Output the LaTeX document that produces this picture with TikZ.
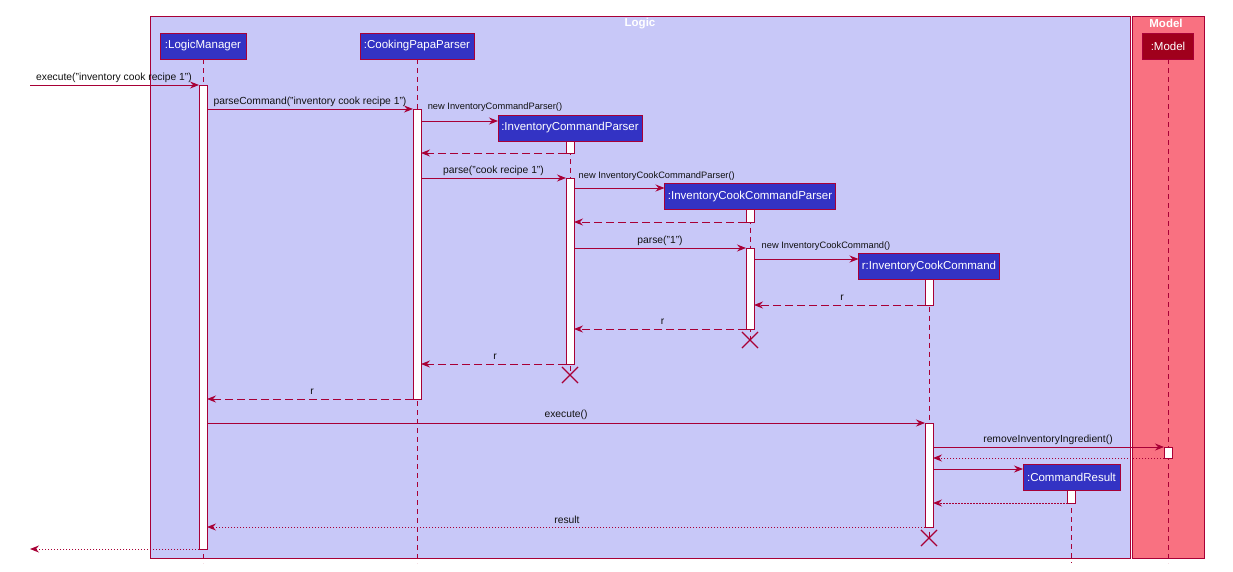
\documentclass[tikz,border=0pt]{standalone}
\usepackage{fontspec}
\setmainfont{Liberation Sans}
\usetikzlibrary{arrows.meta,shapes.misc}
\definecolor{crim}{HTML}{A80036}
\definecolor{logicbg}{HTML}{C8C8F8}
\definecolor{modelbg}{HTML}{F97181}
\definecolor{partblue}{HTML}{3333C4}
\definecolor{partred}{HTML}{A0001C}
\definecolor{lbl}{HTML}{111111}
\begin{document}
\begin{tikzpicture}[x=1pt,y=-1pt,
  part/.style={draw=crim, fill=partblue, text=white, font=\fontsize{11.5}{13}\selectfont,
    minimum height=26pt, inner sep=0pt, outer sep=0pt, line width=0.8pt},
  act/.style={draw=crim, fill=white, minimum width=8pt, inner sep=0pt, outer sep=0pt, line width=0.8pt},
  life/.style={draw=crim, line width=0.8pt, dash pattern=on 5pt off 4pt},
  msg/.style={draw=crim, line width=0.9pt, -{Stealth[length=9pt,width=7pt,inset=3pt]}},
  ret/.style={msg, dash pattern=on 8pt off 4pt},
  dot/.style={msg, dash pattern=on 1.5pt off 1.5pt},
  lab/.style={font=\fontsize{10.3}{12}\selectfont, text=lbl, inner sep=0pt},
  clab/.style={font=\fontsize{9.3}{11}\selectfont, text=lbl, inner sep=0pt},
  ttl/.style={font=\bfseries\fontsize{11.5}{13}\selectfont, text=white, inner sep=0pt},
  destroy/.style={cross out, draw=crim, line width=1.1pt, minimum size=15pt, inner sep=0pt}
]
\useasboundingbox (0,0) rectangle (1233,571);
\fill[white] (0,0) rectangle (1233,571);

% group boxes
\draw[crim, fill=logicbg, line width=1pt] (150,16) rectangle (1130,558);
\draw[crim, fill=modelbg, line width=1pt] (1132,16) rectangle (1204,558);
\node[ttl] (tlogic) at (640,23.5) {Logic};
\node[ttl] (tmodel) at (1166,23.5) {Model};

% participants
\node[part, minimum width=86pt] (lm) at (203,46) {:LogicManager};
\node[part, minimum width=114pt] (cp) at (417,46) {:CookingPapaParser};
\node[part, minimum width=144pt] (icp) at (570,128) {:InventoryCommandParser};
\node[part, minimum width=171pt] (iccp) at (750,196.5) {:InventoryCookCommandParser};
\node[part, minimum width=141pt] (icc) at (929,266.5) {r:InventoryCookCommand};
\node[part, minimum width=97pt] (cr) at (1071.5,477) {:CommandResult};
\node[part, minimum width=51pt, fill=partred] (mo) at (1168,46) {:Model};

% destroy marks
\node[destroy] (x1) at (570,375) {};
\node[destroy] (x2) at (750,340) {};
\node[destroy] (x3) at (929,538) {};

% lifelines
\draw[life] (lm.south) -- (lm.south |- 0,563);
\draw[life] (cp.south) -- (cp.south |- 0,563);
\draw[life] (icp.south) -- (x1.center);
\draw[life] (iccp.south) -- (x2.center);
\draw[life] (icc.south) -- (x3.center);
\draw[life] (cr.south) -- (cr.south |- 0,563);
\draw[life] (mo.south) -- (mo.south |- 0,563);

% activation bars
\node[act, minimum height=464pt] (lmA) at (203,317) {};
\node[act, minimum height=290pt] (cpA) at (417,254) {};
\node[act, minimum height=12pt] (icpA1) at (570,147) {};
\node[act, minimum height=186pt] (icpA2) at (570,271) {};
\node[act, minimum height=13pt] (iccpA1) at (750,215.5) {};
\node[act, minimum height=81pt] (iccpA2) at (750,288.5) {};
\node[act, minimum height=26pt] (iccA1) at (929,292) {};
\node[act, minimum height=104pt] (iccA2) at (929,475) {};
\node[act, minimum height=11pt] (moA) at (1168,452.5) {};
\node[act, minimum height=13pt] (crA) at (1071.5,496.5) {};

% external ends
\coordinate (extIn) at (30,85);
\coordinate (extOut) at (30,549);

% messages
\draw[msg] (extIn) -- (lmA.west |- 0,85);
\node[lab] at (114,78) {execute("inventory cook recipe 1")};

\draw[msg] (lmA.east |- 0,109) -- (cpA.west |- 0,109);
\node[lab] at (310,101.5) {parseCommand("inventory cook recipe 1")};

\draw[msg] (cpA.east |- 0,121) -- (icp.west |- 0,121);
\node[clab] at (495,107) {new InventoryCommandParser()};

\draw[ret] (icpA1.west |- 0,153) -- (cpA.east |- 0,153);

\draw[msg] (cpA.east |- 0,178) -- (icpA2.west |- 0,178);
\node[lab] at (493.5,170.5) {parse("cook recipe 1")};

\draw[msg] (icpA2.east |- 0,188) -- (iccp.west |- 0,188);
\node[clab] at (656.7,176) {new InventoryCookCommandParser()};

\draw[ret] (iccpA1.west |- 0,222) -- (icpA2.east |- 0,222);

\draw[msg] (icpA2.east |- 0,248) -- (iccpA2.west |- 0,248);
\node[lab] at (660,240.5) {parse("1")};

\draw[msg] (iccpA2.east |- 0,259) -- (icc.west |- 0,259);
\node[clab] at (826,246.5) {new InventoryCookCommand()};

\draw[ret] (iccA1.west |- 0,305) -- (iccpA2.east |- 0,305);
\node[lab] at (842,298) {r};

\draw[ret] (iccpA2.west |- 0,329) -- (icpA2.east |- 0,329);
\node[lab] at (662.7,321.7) {r};

\draw[ret] (icpA2.west |- 0,364) -- (cpA.east |- 0,364);
\node[lab] at (495,356.5) {r};

\draw[ret] (cpA.west |- 0,399) -- (lmA.east |- 0,399);
\node[lab] at (312,391.7) {r};

\draw[msg] (lmA.east |- 0,423) -- (iccA2.west |- 0,423);
\node[lab] at (566,415) {execute()};

\draw[msg] (iccA2.east |- 0,447) -- (moA.west |- 0,447);
\node[lab] at (1048,439.5) {removeInventoryIngredient()};

\draw[dot] (moA.west |- 0,458) -- (iccA2.east |- 0,458);

\draw[msg] (iccA2.east |- 0,469) -- (cr.west |- 0,469);

\draw[dot] (crA.west |- 0,503) -- (iccA2.east |- 0,503);

\draw[dot] (iccA2.west |- 0,527) -- (lmA.east |- 0,527);
\node[lab] at (567,519.5) {result};

\draw[dot] (lmA.west |- 0,549) -- (extOut);
\end{tikzpicture}
\end{document}
